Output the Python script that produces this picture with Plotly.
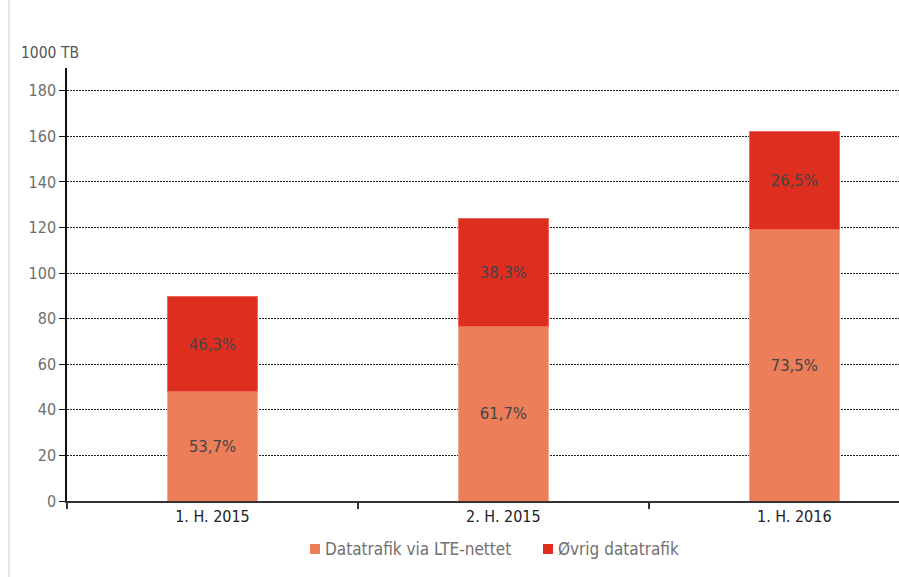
import plotly.graph_objects as go

categories = ["1. H. 2015", "2. H. 2015", "1. H. 2016"]
lte_values = [48.1, 76.4, 119.1]
other_values = [41.5, 47.4, 42.9]
lte_labels = ["53,7%", "61,7%", "73,5%"]
other_labels = ["46,3%", "38,3%", "26,5%"]
y_ticks = [0, 20, 40, 60, 80, 100, 120, 140, 160, 180]
series_names = ["Datatrafik via LTE-nettet", "Øvrig datatrafik"]
series_colors = ["#EC7E5A", "#DE2E20"]

FONT = "DejaVu Sans Condensed, DejaVu Sans"
W, H = 899, 577
L, R, T = 67, 0, 68
B = H - 501
pw = W - L - R
ph = H - T - B


def px(sx):
    return (sx - L) / pw


def py(sy):
    return (H - B - sy) / ph


fig = go.Figure()
fig.add_trace(go.Bar(
    x=categories, y=lte_values, name=series_names[0],
    marker=dict(color=series_colors[0], line=dict(color="#F4A78E", width=1)),
    text=lte_labels, textposition="inside", insidetextanchor="middle",
    textfont=dict(color="#444444", size=16.5, family=FONT),
    width=0.31, showlegend=False,
))
fig.add_trace(go.Bar(
    x=categories, y=other_values, name=series_names[1],
    marker=dict(color=series_colors[1], line=dict(color="#EE6A5E", width=1)),
    text=other_labels, textposition="inside", insidetextanchor="middle",
    textfont=dict(color="#444444", size=16.5, family=FONT),
    width=0.31, showlegend=False,
))

fig.update_layout(
    width=W, height=H,
    margin=dict(l=L, r=R, t=T, b=B, autoexpand=False),
    barmode="stack",
    plot_bgcolor="white", paper_bgcolor="white",
    font=dict(family=FONT, size=14, color="#555555"),
    uniformtext=dict(minsize=8, mode="show"),
    showlegend=False,
    xaxis=dict(
        type="category", range=[-0.5, 2.36], automargin=False,
        showline=True, linecolor="#333333", linewidth=1.5,
        ticks="outside", tickson="boundaries", ticklen=6,
        tickcolor="#333333", tickwidth=1.5,
        tickfont=dict(size=16, color="#222222", family=FONT),
        showgrid=False,
    ),
    yaxis=dict(
        range=[0, 190], tickvals=y_ticks, automargin=False,
        showline=True, linecolor="#111111", linewidth=1.5,
        ticks="outside", ticklen=6, tickcolor="#111111", tickwidth=1,
        tickfont=dict(size=16, color="#6E6E6E", family=FONT),
        showgrid=True, gridcolor="#222222", gridwidth=1, griddash="2px,1px",
        zeroline=False,
    ),
)

fig.add_annotation(
    text="1000 TB", xref="paper", yref="paper",
    x=px(19), y=py(53), xanchor="left", yanchor="middle",
    showarrow=False, font=dict(size=15.5, color="#555555", family=FONT),
)

# legend drawn as marker squares + text
legend_marker_x = [310, 543]
legend_text_x = [323, 556]
for name, color, mx, tx in zip(series_names, series_colors, legend_marker_x, legend_text_x):
    fig.add_shape(
        type="rect", xref="paper", yref="paper",
        x0=px(mx), x1=px(mx + 10), y0=py(544), y1=py(554),
        fillcolor=color, line=dict(width=0),
    )
    fig.add_annotation(
        text=name, xref="paper", yref="paper",
        x=px(tx), y=py(549), xanchor="left", yanchor="middle",
        showarrow=False, font=dict(size=17, color="#707070", family=FONT),
    )

# thin grey frame line at left edge
fig.add_shape(
    type="line", xref="paper", yref="paper",
    x0=px(9), x1=px(9), y0=py(0), y1=py(577),
    line=dict(color="#CCCCCC", width=1),
)

fig.write_html(
    "out.html",
    config={"displayModeBar": False},
    post_script="document.body.style.margin='0';document.body.style.overflow='hidden';",
)
